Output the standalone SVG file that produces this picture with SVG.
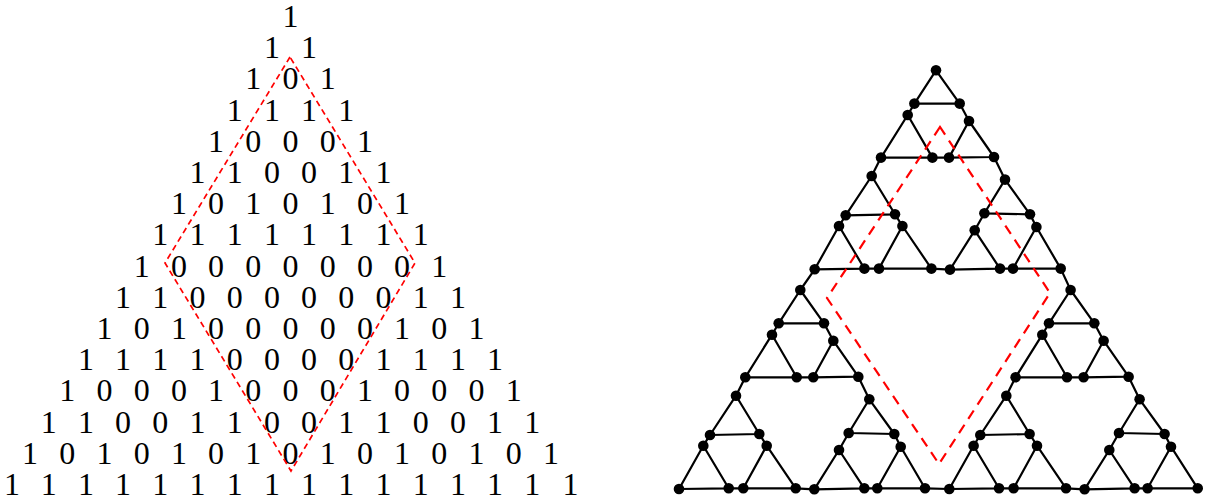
<svg xmlns="http://www.w3.org/2000/svg" width="1208" height="504" viewBox="0 0 1208 504">
<style>
.d{font-family:"Liberation Serif","Times New Roman","DejaVu Serif",serif;font-size:32px;fill:#000;text-anchor:middle}
.e{fill:none;stroke:#000;stroke-width:2.2;stroke-linejoin:round}
.n{fill:#000}
.rl{fill:none;stroke:#ff0000;stroke-width:1.7;stroke-dasharray:6 4}
.rr{fill:none;stroke:#ff0000;stroke-width:2.2;stroke-dasharray:10 7}
</style>
<rect width="1208" height="504" fill="#fff"/>
<g id="pascal">
<g id="row0"><text class="d" x="290.5" y="27">1</text></g>
<g id="row1"><text class="d" x="271.9" y="58.2">1</text><text class="d" x="309.1" y="58.2">1</text></g>
<g id="row2"><text class="d" x="253.3" y="89.4">1</text><text class="d" x="290.5" y="89.4">0</text><text class="d" x="327.7" y="89.4">1</text></g>
<g id="row3"><text class="d" x="234.7" y="120.6">1</text><text class="d" x="271.9" y="120.6">1</text><text class="d" x="309.1" y="120.6">1</text><text class="d" x="346.3" y="120.6">1</text></g>
<g id="row4"><text class="d" x="216.1" y="151.8">1</text><text class="d" x="253.3" y="151.8">0</text><text class="d" x="290.5" y="151.8">0</text><text class="d" x="327.7" y="151.8">0</text><text class="d" x="364.9" y="151.8">1</text></g>
<g id="row5"><text class="d" x="197.5" y="183">1</text><text class="d" x="234.7" y="183">1</text><text class="d" x="271.9" y="183">0</text><text class="d" x="309.1" y="183">0</text><text class="d" x="346.3" y="183">1</text><text class="d" x="383.5" y="183">1</text></g>
<g id="row6"><text class="d" x="178.9" y="214.2">1</text><text class="d" x="216.1" y="214.2">0</text><text class="d" x="253.3" y="214.2">1</text><text class="d" x="290.5" y="214.2">0</text><text class="d" x="327.7" y="214.2">1</text><text class="d" x="364.9" y="214.2">0</text><text class="d" x="402.1" y="214.2">1</text></g>
<g id="row7"><text class="d" x="160.3" y="245.4">1</text><text class="d" x="197.5" y="245.4">1</text><text class="d" x="234.7" y="245.4">1</text><text class="d" x="271.9" y="245.4">1</text><text class="d" x="309.1" y="245.4">1</text><text class="d" x="346.3" y="245.4">1</text><text class="d" x="383.5" y="245.4">1</text><text class="d" x="420.7" y="245.4">1</text></g>
<g id="row8"><text class="d" x="141.7" y="276.6">1</text><text class="d" x="178.9" y="276.6">0</text><text class="d" x="216.1" y="276.6">0</text><text class="d" x="253.3" y="276.6">0</text><text class="d" x="290.5" y="276.6">0</text><text class="d" x="327.7" y="276.6">0</text><text class="d" x="364.9" y="276.6">0</text><text class="d" x="402.1" y="276.6">0</text><text class="d" x="439.3" y="276.6">1</text></g>
<g id="row9"><text class="d" x="123.1" y="307.8">1</text><text class="d" x="160.3" y="307.8">1</text><text class="d" x="197.5" y="307.8">0</text><text class="d" x="234.7" y="307.8">0</text><text class="d" x="271.9" y="307.8">0</text><text class="d" x="309.1" y="307.8">0</text><text class="d" x="346.3" y="307.8">0</text><text class="d" x="383.5" y="307.8">0</text><text class="d" x="420.7" y="307.8">1</text><text class="d" x="457.9" y="307.8">1</text></g>
<g id="row10"><text class="d" x="104.5" y="339">1</text><text class="d" x="141.7" y="339">0</text><text class="d" x="178.9" y="339">1</text><text class="d" x="216.1" y="339">0</text><text class="d" x="253.3" y="339">0</text><text class="d" x="290.5" y="339">0</text><text class="d" x="327.7" y="339">0</text><text class="d" x="364.9" y="339">0</text><text class="d" x="402.1" y="339">1</text><text class="d" x="439.3" y="339">0</text><text class="d" x="476.5" y="339">1</text></g>
<g id="row11"><text class="d" x="85.9" y="370.2">1</text><text class="d" x="123.1" y="370.2">1</text><text class="d" x="160.3" y="370.2">1</text><text class="d" x="197.5" y="370.2">1</text><text class="d" x="234.7" y="370.2">0</text><text class="d" x="271.9" y="370.2">0</text><text class="d" x="309.1" y="370.2">0</text><text class="d" x="346.3" y="370.2">0</text><text class="d" x="383.5" y="370.2">1</text><text class="d" x="420.7" y="370.2">1</text><text class="d" x="457.9" y="370.2">1</text><text class="d" x="495.1" y="370.2">1</text></g>
<g id="row12"><text class="d" x="67.3" y="401.4">1</text><text class="d" x="104.5" y="401.4">0</text><text class="d" x="141.7" y="401.4">0</text><text class="d" x="178.9" y="401.4">0</text><text class="d" x="216.1" y="401.4">1</text><text class="d" x="253.3" y="401.4">0</text><text class="d" x="290.5" y="401.4">0</text><text class="d" x="327.7" y="401.4">0</text><text class="d" x="364.9" y="401.4">1</text><text class="d" x="402.1" y="401.4">0</text><text class="d" x="439.3" y="401.4">0</text><text class="d" x="476.5" y="401.4">0</text><text class="d" x="513.7" y="401.4">1</text></g>
<g id="row13"><text class="d" x="48.7" y="432.6">1</text><text class="d" x="85.9" y="432.6">1</text><text class="d" x="123.1" y="432.6">0</text><text class="d" x="160.3" y="432.6">0</text><text class="d" x="197.5" y="432.6">1</text><text class="d" x="234.7" y="432.6">1</text><text class="d" x="271.9" y="432.6">0</text><text class="d" x="309.1" y="432.6">0</text><text class="d" x="346.3" y="432.6">1</text><text class="d" x="383.5" y="432.6">1</text><text class="d" x="420.7" y="432.6">0</text><text class="d" x="457.9" y="432.6">0</text><text class="d" x="495.1" y="432.6">1</text><text class="d" x="532.3" y="432.6">1</text></g>
<g id="row14"><text class="d" x="30.1" y="463.8">1</text><text class="d" x="67.3" y="463.8">0</text><text class="d" x="104.5" y="463.8">1</text><text class="d" x="141.7" y="463.8">0</text><text class="d" x="178.9" y="463.8">1</text><text class="d" x="216.1" y="463.8">0</text><text class="d" x="253.3" y="463.8">1</text><text class="d" x="290.5" y="463.8">0</text><text class="d" x="327.7" y="463.8">1</text><text class="d" x="364.9" y="463.8">0</text><text class="d" x="402.1" y="463.8">1</text><text class="d" x="439.3" y="463.8">0</text><text class="d" x="476.5" y="463.8">1</text><text class="d" x="513.7" y="463.8">0</text><text class="d" x="550.9" y="463.8">1</text></g>
<g id="row15"><text class="d" x="12" y="495">1</text><text class="d" x="48.7" y="495">1</text><text class="d" x="85.9" y="495">1</text><text class="d" x="123.1" y="495">1</text><text class="d" x="160.3" y="495">1</text><text class="d" x="197.5" y="495">1</text><text class="d" x="234.7" y="495">1</text><text class="d" x="271.9" y="495">1</text><text class="d" x="309.1" y="495">1</text><text class="d" x="346.3" y="495">1</text><text class="d" x="383.5" y="495">1</text><text class="d" x="420.7" y="495">1</text><text class="d" x="457.9" y="495">1</text><text class="d" x="495.1" y="495">1</text><text class="d" x="532.3" y="495">1</text><text class="d" x="570.5" y="495">1</text></g>
</g>
<path id="diamond-left" class="rl" d="M290 57L165 263L291 471L415 263Z"/>
<g id="connectors">
<path class="e" d="M936 70.3L914.4 103.6L959.7 103.6Z"/>
<path class="e" d="M907.7 115L881 157.6L932.4 157.6Z"/>
<path class="e" d="M969 121L949 157.6L994 157Z"/>
<path class="e" d="M871.7 176L845.7 215.3L895 214.3Z"/>
<path class="e" d="M839 226L814.7 269.3L864.4 268.6Z"/>
<path class="e" d="M902.4 226L879 268.6L931.4 268.6Z"/>
<path class="e" d="M1005 179.6L984.4 213.3L1030 214.3Z"/>
<path class="e" d="M974.7 230.3L950 269.6L1000 268.6Z"/>
<path class="e" d="M1036.4 227L1013 268.6L1060.7 268.6Z"/>
<path class="e" d="M800.3 290L778.7 323.3L824 323.3Z"/>
<path class="e" d="M772 334.7L745.3 377.3L796.7 377.3Z"/>
<path class="e" d="M833.3 340.7L813.3 377.3L858.3 376.7Z"/>
<path class="e" d="M736 395.7L710 435L759.3 434Z"/>
<path class="e" d="M703.3 445.7L679 489L728.7 488.3Z"/>
<path class="e" d="M766.7 445.7L743.3 488.3L795.7 488.3Z"/>
<path class="e" d="M869.3 399.3L848.7 433L894.3 434Z"/>
<path class="e" d="M839 450L814.3 489.3L864.3 488.3Z"/>
<path class="e" d="M900.7 446.7L877.3 488.3L925 488.3Z"/>
<path class="e" d="M1070.6 290L1049 323.3L1094.3 323.3Z"/>
<path class="e" d="M1042.3 334.7L1015.6 377.3L1067 377.3Z"/>
<path class="e" d="M1103.6 340.7L1083.6 377.3L1128.6 376.7Z"/>
<path class="e" d="M1006.3 395.7L980.3 435L1029.6 434Z"/>
<path class="e" d="M973.6 445.7L949.3 489L999 488.3Z"/>
<path class="e" d="M1037 445.7L1013.6 488.3L1066 488.3Z"/>
<path class="e" d="M1139.6 399.3L1119 433L1164.6 434Z"/>
<path class="e" d="M1109.3 450L1084.6 489.3L1134.6 488.3Z"/>
<path class="e" d="M1171 446.7L1147.6 488.3L1197.7 488.3Z"/>
<path class="e" d="M914.4 103.6L907.7 115M959.7 103.6L969 121M932.4 157.6L949 157.6M845.7 215.3L839 226M895 214.3L902.4 226M864.4 268.6L879 268.6M984.4 213.3L974.7 230.3M1030 214.3L1036.4 227M1000 268.6L1013 268.6"/>
<path class="e" d="M778.7 323.3L772 334.7M824 323.3L833.3 340.7M796.7 377.3L813.3 377.3M710 435L703.3 445.7M759.3 434L766.7 445.7M728.7 488.3L743.3 488.3M848.7 433L839 450M894.3 434L900.7 446.7M864.3 488.3L877.3 488.3"/>
<path class="e" d="M1049 323.3L1042.3 334.7M1094.3 323.3L1103.6 340.7M1067 377.3L1083.6 377.3M980.3 435L973.6 445.7M1029.6 434L1037 445.7M999 488.3L1013.6 488.3M1119 433L1109.3 450M1164.6 434L1171 446.7M1134.6 488.3L1147.6 488.3"/>
<path class="e" d="M881 157.6L871.7 176M994 157L1005 179.6M931.4 268.6L950 269.6M745.3 377.3L736 395.7M858.3 376.7L869.3 399.3M795.7 488.3L814.3 489.3M1015.6 377.3L1006.3 395.7M1128.6 376.7L1139.6 399.3M1066 488.3L1084.6 489.3"/>
<path class="e" d="M814.7 269.3L800.3 290M1060.7 268.6L1070.6 290M925 488.3L949.3 489"/>
</g>
<g id="nodes">
<g id="tT1a"><circle class="n" cx="936" cy="70.3" r="5.3"/></g>
<g id="tT1b"><circle class="n" cx="914.4" cy="103.6" r="5.3"/></g>
<g id="tT1c"><circle class="n" cx="959.7" cy="103.6" r="5.3"/></g>
<g id="tT2a"><circle class="n" cx="907.7" cy="115" r="5.3"/></g>
<g id="tT2b"><circle class="n" cx="881" cy="157.6" r="5.3"/></g>
<g id="tT2c"><circle class="n" cx="932.4" cy="157.6" r="5.3"/></g>
<g id="tT3a"><circle class="n" cx="969" cy="121" r="5.3"/></g>
<g id="tT3b"><circle class="n" cx="949" cy="157.6" r="5.3"/></g>
<g id="tT3c"><circle class="n" cx="994" cy="157" r="5.3"/></g>
<g id="tL1a"><circle class="n" cx="871.7" cy="176" r="5.3"/></g>
<g id="tL1b"><circle class="n" cx="845.7" cy="215.3" r="5.3"/></g>
<g id="tL1c"><circle class="n" cx="895" cy="214.3" r="5.3"/></g>
<g id="tL2a"><circle class="n" cx="839" cy="226" r="5.3"/></g>
<g id="tL2b"><circle class="n" cx="814.7" cy="269.3" r="5.3"/></g>
<g id="tL2c"><circle class="n" cx="864.4" cy="268.6" r="5.3"/></g>
<g id="tL3a"><circle class="n" cx="902.4" cy="226" r="5.3"/></g>
<g id="tL3b"><circle class="n" cx="879" cy="268.6" r="5.3"/></g>
<g id="tL3c"><circle class="n" cx="931.4" cy="268.6" r="5.3"/></g>
<g id="tR1a"><circle class="n" cx="1005" cy="179.6" r="5.3"/></g>
<g id="tR1b"><circle class="n" cx="984.4" cy="213.3" r="5.3"/></g>
<g id="tR1c"><circle class="n" cx="1030" cy="214.3" r="5.3"/></g>
<g id="tR2a"><circle class="n" cx="974.7" cy="230.3" r="5.3"/></g>
<g id="tR2b"><circle class="n" cx="950" cy="269.6" r="5.3"/></g>
<g id="tR2c"><circle class="n" cx="1000" cy="268.6" r="5.3"/></g>
<g id="tR3a"><circle class="n" cx="1036.4" cy="227" r="5.3"/></g>
<g id="tR3b"><circle class="n" cx="1013" cy="268.6" r="5.3"/></g>
<g id="tR3c"><circle class="n" cx="1060.7" cy="268.6" r="5.3"/></g>
<g id="lT1a"><circle class="n" cx="800.3" cy="290" r="5.3"/></g>
<g id="lT1b"><circle class="n" cx="778.7" cy="323.3" r="5.3"/></g>
<g id="lT1c"><circle class="n" cx="824" cy="323.3" r="5.3"/></g>
<g id="lT2a"><circle class="n" cx="772" cy="334.7" r="5.3"/></g>
<g id="lT2b"><circle class="n" cx="745.3" cy="377.3" r="5.3"/></g>
<g id="lT2c"><circle class="n" cx="796.7" cy="377.3" r="5.3"/></g>
<g id="lT3a"><circle class="n" cx="833.3" cy="340.7" r="5.3"/></g>
<g id="lT3b"><circle class="n" cx="813.3" cy="377.3" r="5.3"/></g>
<g id="lT3c"><circle class="n" cx="858.3" cy="376.7" r="5.3"/></g>
<g id="lL1a"><circle class="n" cx="736" cy="395.7" r="5.3"/></g>
<g id="lL1b"><circle class="n" cx="710" cy="435" r="5.3"/></g>
<g id="lL1c"><circle class="n" cx="759.3" cy="434" r="5.3"/></g>
<g id="lL2a"><circle class="n" cx="703.3" cy="445.7" r="5.3"/></g>
<g id="lL2b"><circle class="n" cx="679" cy="489" r="5.3"/></g>
<g id="lL2c"><circle class="n" cx="728.7" cy="488.3" r="5.3"/></g>
<g id="lL3a"><circle class="n" cx="766.7" cy="445.7" r="5.3"/></g>
<g id="lL3b"><circle class="n" cx="743.3" cy="488.3" r="5.3"/></g>
<g id="lL3c"><circle class="n" cx="795.7" cy="488.3" r="5.3"/></g>
<g id="lR1a"><circle class="n" cx="869.3" cy="399.3" r="5.3"/></g>
<g id="lR1b"><circle class="n" cx="848.7" cy="433" r="5.3"/></g>
<g id="lR1c"><circle class="n" cx="894.3" cy="434" r="5.3"/></g>
<g id="lR2a"><circle class="n" cx="839" cy="450" r="5.3"/></g>
<g id="lR2b"><circle class="n" cx="814.3" cy="489.3" r="5.3"/></g>
<g id="lR2c"><circle class="n" cx="864.3" cy="488.3" r="5.3"/></g>
<g id="lR3a"><circle class="n" cx="900.7" cy="446.7" r="5.3"/></g>
<g id="lR3b"><circle class="n" cx="877.3" cy="488.3" r="5.3"/></g>
<g id="lR3c"><circle class="n" cx="925" cy="488.3" r="5.3"/></g>
<g id="rT1a"><circle class="n" cx="1070.6" cy="290" r="5.3"/></g>
<g id="rT1b"><circle class="n" cx="1049" cy="323.3" r="5.3"/></g>
<g id="rT1c"><circle class="n" cx="1094.3" cy="323.3" r="5.3"/></g>
<g id="rT2a"><circle class="n" cx="1042.3" cy="334.7" r="5.3"/></g>
<g id="rT2b"><circle class="n" cx="1015.6" cy="377.3" r="5.3"/></g>
<g id="rT2c"><circle class="n" cx="1067" cy="377.3" r="5.3"/></g>
<g id="rT3a"><circle class="n" cx="1103.6" cy="340.7" r="5.3"/></g>
<g id="rT3b"><circle class="n" cx="1083.6" cy="377.3" r="5.3"/></g>
<g id="rT3c"><circle class="n" cx="1128.6" cy="376.7" r="5.3"/></g>
<g id="rL1a"><circle class="n" cx="1006.3" cy="395.7" r="5.3"/></g>
<g id="rL1b"><circle class="n" cx="980.3" cy="435" r="5.3"/></g>
<g id="rL1c"><circle class="n" cx="1029.6" cy="434" r="5.3"/></g>
<g id="rL2a"><circle class="n" cx="973.6" cy="445.7" r="5.3"/></g>
<g id="rL2b"><circle class="n" cx="949.3" cy="489" r="5.3"/></g>
<g id="rL2c"><circle class="n" cx="999" cy="488.3" r="5.3"/></g>
<g id="rL3a"><circle class="n" cx="1037" cy="445.7" r="5.3"/></g>
<g id="rL3b"><circle class="n" cx="1013.6" cy="488.3" r="5.3"/></g>
<g id="rL3c"><circle class="n" cx="1066" cy="488.3" r="5.3"/></g>
<g id="rR1a"><circle class="n" cx="1139.6" cy="399.3" r="5.3"/></g>
<g id="rR1b"><circle class="n" cx="1119" cy="433" r="5.3"/></g>
<g id="rR1c"><circle class="n" cx="1164.6" cy="434" r="5.3"/></g>
<g id="rR2a"><circle class="n" cx="1109.3" cy="450" r="5.3"/></g>
<g id="rR2b"><circle class="n" cx="1084.6" cy="489.3" r="5.3"/></g>
<g id="rR2c"><circle class="n" cx="1134.6" cy="488.3" r="5.3"/></g>
<g id="rR3a"><circle class="n" cx="1171" cy="446.7" r="5.3"/></g>
<g id="rR3b"><circle class="n" cx="1147.6" cy="488.3" r="5.3"/></g>
<g id="rR3c"><circle class="n" cx="1197.7" cy="488.3" r="5.3"/></g>
</g>
<path id="diamond-right" class="rr" d="M940 127L827 298L939 464L1050 293Z"/>
</svg>
